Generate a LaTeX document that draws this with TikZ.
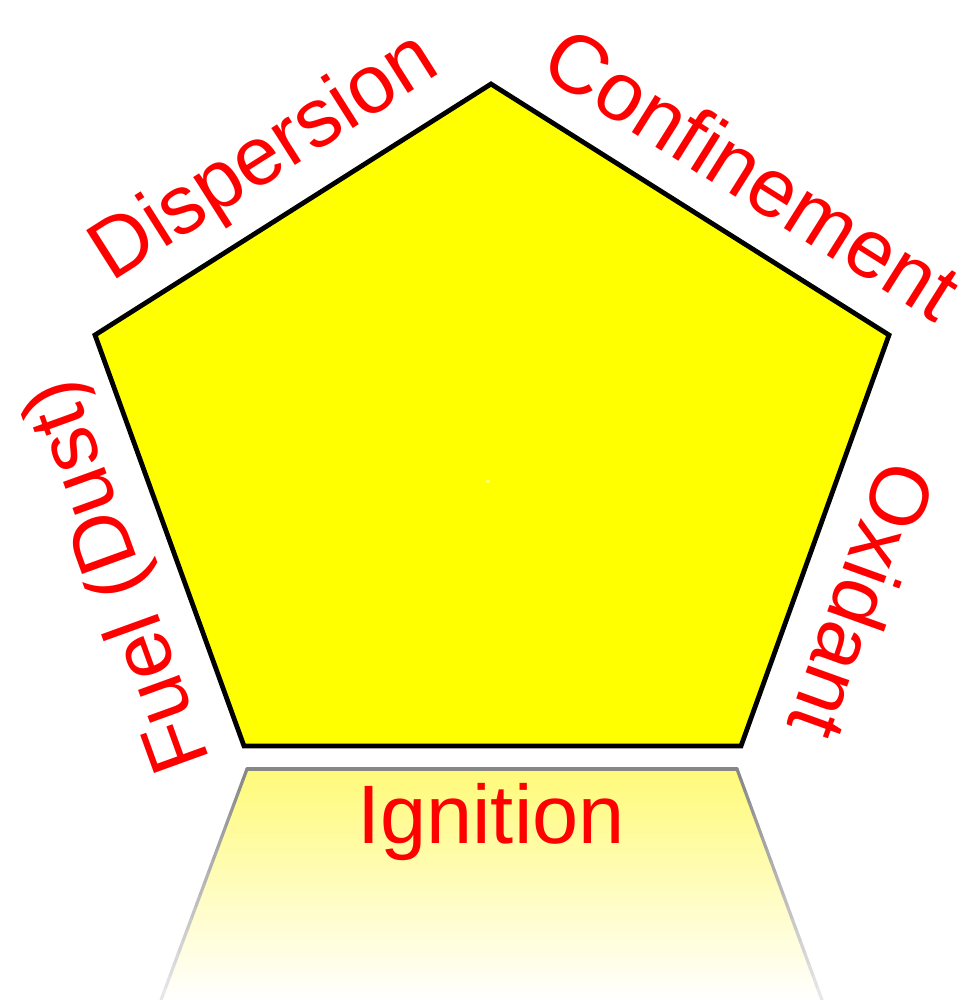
\documentclass[tikz,border=0pt]{standalone}
\usepackage{fontspec}
\setmainfont{Liberation Sans}
\usetikzlibrary{calc}
\definecolor{pyellow}{RGB}{255,255,0}
\definecolor{ryellow}{RGB}{255,250,120}
\definecolor{lred}{RGB}{255,0,0}
\definecolor{rgray}{RGB}{135,135,135}
\begin{document}
\begin{tikzpicture}[x=1pt,y=-1pt,
  lbl/.style={text=lred, font=\fontsize{83}{98}\selectfont, inner sep=0pt, anchor=base},
  pent/.style={fill=pyellow, draw=black, line width=4.8, line join=miter},
  refl/.style={top color=ryellow, bottom color=white, draw=none},
  reflline/.style={line width=3.2, line cap=round}]
\useasboundingbox (0,0) rectangle (970,1000);
% pentagon vertices
\coordinate (T) at (491,84);
\coordinate (R) at (889,335);
\coordinate (BR) at (741,746);
\coordinate (BL) at (244,746);
\coordinate (L) at (95,335);
% reflection vertices
\coordinate (RTL) at (247,769);
\coordinate (RTR) at (737,769);
\coordinate (RBR) at (822,1000);
\coordinate (RBL) at (161,1000);
% reflection
\shade[refl] (RTL) -- (RTR) -- (RBR) -- (RBL) -- cycle;
\draw[reflline, draw=rgray] (RTL) -- (RTR);
\foreach \i [evaluate=\i as \a using \i/20,
             evaluate=\i as \b using (\i+1)/20,
             evaluate=\i as \c using 100-4.2*\i] in {0,...,19} {
  \draw[reflline, draw=rgray!\c!white] ($(RTL)!\a!(RBL)$) -- ($(RTL)!\b!(RBL)$);
  \draw[reflline, draw=rgray!\c!white] ($(RTR)!\a!(RBR)$) -- ($(RTR)!\b!(RBR)$);
}
% pentagon
\draw[pent] (T) -- (R) -- (BR) -- (BL) -- (L) -- cycle;
\node[text=white, font=\fontsize{12}{12}\selectfont, inner sep=0pt] (mark) at (488,484) {``};
% labels
\node[lbl, rotate=32.4] (disp) at (277,177) {Dispersion};
\node[lbl, rotate=-32.2] (conf) at (737,198) {Confinement};
\node[lbl, rotate=-109.8] (oxid) at (835,591) {Oxidant};
\node[lbl, rotate=109.9] (fuel) at (141,568) {Fuel (Dust)};
\node[lbl] (ign) at (491,843) {Ignition};
\end{tikzpicture}
\end{document}
